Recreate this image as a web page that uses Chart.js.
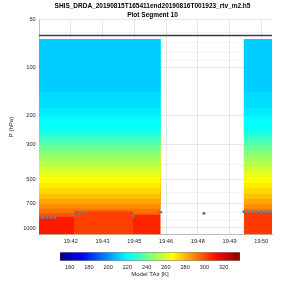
<!DOCTYPE html>
<html lang="en">
    <head>
        <meta charset="UTF-8" />
        <meta name="viewport" content="width=device-width, initial-scale=1.0" />
        <title>Plot Segment 10</title>
        <script src="https://cdn.jsdelivr.net/npm/chart.js"></script>
        <style>
            body { margin: 0; background: #fff; }
            .box { position: absolute; left: 0; width: 300px; }
        </style>
    </head>
    <body>
        <div class="box" style="top: 0; height: 246px"><canvas id="mainChart"></canvas></div>
        <div class="box" style="top: 246px; height: 54px"><canvas id="barChart"></canvas></div>
        <script>
            // x values are minutes after 19:42:00
            const tickMinutes = [0.5, 1.9, 3.3, 4.7, 6.1, 7.5, 8.9];
            const tickLabels = ["19:42", "19:43", "19:45", "19:46", "19:48", "19:49", "19:50"];
            const pressureTicks = [50, 60, 70, 80, 90, 100, 200, 300, 400, 500, 600, 700, 800, 900, 1000];
            const pressureLabels = [50, 100, 200, 300, 500, 700, 1000];

            // two data segments, model temperature profile (K) per layer
            const segStart = [-0.9, 8.13];
            const segEnd = [4.46, 9.37];
            const profileTop = 66.5;
            const layerBottom = [143, 180, 202, 248, 265, 285, 305, 330, 355, 385, 415, 450, 485, 525, 565, 610, 660, 710, 760, 810, 1100];
            const layerTemp = [211, 214, 217, 221, 226, 230, 235, 240, 245, 250, 254, 258, 263, 267, 270, 274, 278, 283, 288, 293, 298];

            // near-surface columns
            const sfcStart = [-0.9, 0.645, 3.243, 8.13];
            const sfcEnd = [0.645, 3.243, 4.46, 9.37];
            const sfcPres = [850, 786, 830, 791];
            const sfcTemp = [309, 302, 307, 303];

            // surface pressure markers
            const obsTime = [-0.896, -0.72, -0.544, -0.367, -0.191, 0.659, 0.835, 1.011, 1.187, 3.256, 4.463, 6.37, 8.131, 8.32, 8.51, 8.7, 8.89, 9.08, 9.27];
            const obsPres = [858, 858, 858, 858, 858, 821, 821, 798, 798, 842, 798, 810, 791, 791, 791, 791, 791, 791, 791];

            const flightPres = 63;
            const cbTicks = [160, 180, 200, 220, 240, 260, 280, 300, 320];
            const tMin = 150;
            const tMax = 337;
            const xMin = -0.9;
            const xMax = 9.37;

            const fontFamily = "'Liberation Sans', Arial, sans-serif";
            const tickFont = { family: fontFamily, size: 5.6 };
            const textColor = "#262626";

            function jet(temp) {
                const t = Math.min(1, Math.max(0, (temp - tMin) / (tMax - tMin)));
                const c = (v) => Math.round(255 * Math.min(1, Math.max(0, v)));
                const r = c(1.5 - Math.abs(4 * t - 3));
                const g = c(1.5 - Math.abs(4 * t - 2));
                const b = c(1.5 - Math.abs(4 * t - 1));
                return "rgb(" + r + "," + g + "," + b + ")";
            }

            const datasets = [];

            datasets.push({
                data: obsTime.map((t, i) => ({ x: t, y: obsPres[i] })),
                showLine: false,
                pointRadius: 1.6,
                pointBorderWidth: 0,
                pointBackgroundColor: "#6f7c8c",
                order: 0,
            });

            datasets.push({
                data: [{ x: xMin, y: flightPres }, { x: xMax, y: flightPres }],
                borderColor: "#3d3d3d",
                borderWidth: 1.6,
                pointRadius: 0,
                order: 1,
            });

            for (let i = 0; i < sfcStart.length; i++) {
                datasets.push({
                    data: [{ x: sfcStart[i], y: 1100 }, { x: sfcEnd[i], y: 1100 }],
                    fill: { value: sfcPres[i] },
                    backgroundColor: jet(sfcTemp[i]),
                    borderColor: "rgba(0,0,0,0)",
                    borderWidth: 0,
                    pointRadius: 0,
                    order: 5,
                });
            }

            for (let s = 0; s < segStart.length; s++) {
                for (let k = 0; k < layerBottom.length; k++) {
                    datasets.push({
                        data: [{ x: segStart[s], y: layerBottom[k] }, { x: segEnd[s], y: layerBottom[k] }],
                        fill: { value: profileTop },
                        backgroundColor: jet(layerTemp[k]),
                        borderColor: "rgba(0,0,0,0)",
                        borderWidth: 0,
                        pointRadius: 0,
                        order: 10 + k,
                    });
                }
            }

            new Chart(document.getElementById("mainChart"), {
                type: "line",
                data: { datasets: datasets },
                options: {
                    animation: false,
                    responsive: true,
                    maintainAspectRatio: false,
                    layout: { padding: { left: 5, right: 0, top: 0, bottom: 0 } },
                    plugins: {
                        legend: { display: false },
                        tooltip: { enabled: false },
                        title: {
                            display: true,
                            text: ["SHIS_DRDA_20190815T165411end20190816T001923_rtv_m2.h5", "Plot Segment 10"],
                            color: "#000",
                            font: { family: fontFamily, size: 6.5, weight: "bold", lineHeight: 1.28 },
                            padding: { top: 2.5, bottom: 0.3 },
                        },
                    },
                    scales: {
                        x: {
                            type: "linear",
                            min: xMin,
                            max: xMax,
                            z: 1,
                            afterBuildTicks: (s) => {
                                s.ticks = tickMinutes.map((v) => ({ value: v }));
                            },
                            afterFit: (s) => {
                                s.height = 11.4;
                            },
                            ticks: {
                                callback: (v, i) => tickLabels[i],
                                font: tickFont,
                                color: textColor,
                                padding: 3,
                                maxRotation: 0,
                                autoSkip: false,
                            },
                            grid: { color: "rgba(38,38,38,0.1)", drawTicks: false },
                            border: { color: "rgba(38,38,38,0.5)", width: 0.6 },
                        },
                        y: {
                            type: "logarithmic",
                            reverse: true,
                            min: 50,
                            max: 1100,
                            z: 1,
                            afterBuildTicks: (s) => {
                                s.ticks = pressureTicks.map((v) => ({ value: v }));
                            },
                            afterFit: (s) => {
                                s.width = 34;
                            },
                            ticks: {
                                callback: (v) => (pressureLabels.includes(v) ? String(v) : ""),
                                font: tickFont,
                                color: textColor,
                                padding: 3.3,
                                autoSkip: false,
                            },
                            grid: {
                                color: (ctx) =>
                                    ctx.tick && pressureLabels.includes(ctx.tick.value)
                                        ? "rgba(38,38,38,0.1)"
                                        : "rgba(38,38,38,0.05)",
                                drawTicks: false,
                            },
                            border: { color: "rgba(38,38,38,0.5)", width: 0.6 },
                            title: {
                                display: true,
                                text: "P (hPa)",
                                color: textColor,
                                font: { family: fontFamily, size: 6 },
                                padding: { top: 3, bottom: 0 },
                            },
                        },
                        yRight: {
                            type: "linear",
                            position: "right",
                            grid: { display: false, drawTicks: false },
                            ticks: { display: false },
                            border: { display: false },
                            afterFit: (s) => {
                                s.width = 28;
                            },
                        },
                    },
                },
            });

            new Chart(document.getElementById("barChart"), {
                type: "bar",
                data: {
                    labels: [""],
                    datasets: [
                        {
                            data: [[tMin, tMax]],
                            backgroundColor: (ctx) => {
                                const area = ctx.chart.chartArea;
                                if (!area) return "#888";
                                const g = ctx.chart.ctx.createLinearGradient(area.left, 0, area.right, 0);
                                g.addColorStop(0, "rgb(0,0,128)");
                                g.addColorStop(0.125, "rgb(0,0,255)");
                                g.addColorStop(0.375, "rgb(0,255,255)");
                                g.addColorStop(0.625, "rgb(255,255,0)");
                                g.addColorStop(0.875, "rgb(255,0,0)");
                                g.addColorStop(1, "rgb(128,0,0)");
                                return g;
                            },
                            borderColor: "#666",
                            borderWidth: 0.5,
                            borderSkipped: false,
                            barPercentage: 1,
                            categoryPercentage: 1,
                        },
                    ],
                },
                options: {
                    indexAxis: "y",
                    animation: false,
                    responsive: true,
                    maintainAspectRatio: false,
                    layout: { padding: { left: 60, right: 60, top: 6.3, bottom: 0 } },
                    plugins: { legend: { display: false }, tooltip: { enabled: false } },
                    scales: {
                        x: {
                            type: "linear",
                            min: tMin,
                            max: tMax,
                            afterBuildTicks: (s) => {
                                s.ticks = cbTicks.map((v) => ({ value: v }));
                            },
                            afterFit: (s) => {
                                s.height = 39.3;
                            },
                            ticks: { font: tickFont, color: textColor, padding: 3, maxRotation: 0, autoSkip: false },
                            grid: { display: false, drawTicks: false },
                            border: { display: false },
                            title: {
                                display: true,
                                text: "Model TAir [K]",
                                color: textColor,
                                font: { family: fontFamily, size: 6 },
                                padding: { top: 0, bottom: 22.4 },
                            },
                        },
                        y: { display: false },
                    },
                },
            });
        </script>
    </body>
</html>
